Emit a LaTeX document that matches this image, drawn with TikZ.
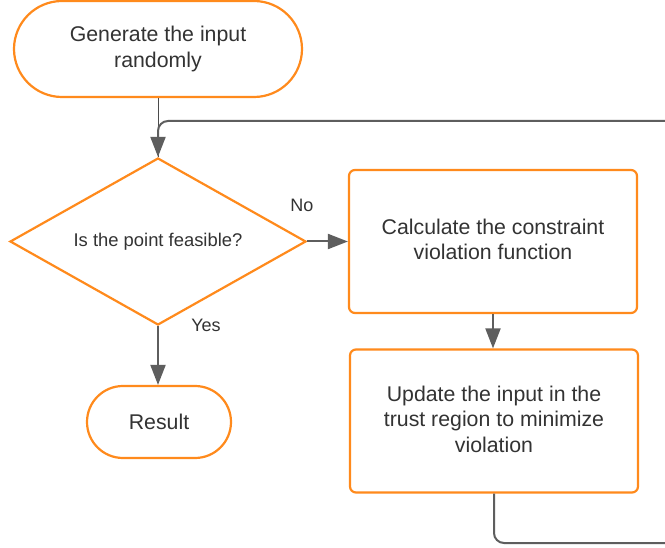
\documentclass[tikz,border=0pt]{standalone}
\usepackage{fontspec}
\setmainfont{Liberation Sans}
\usetikzlibrary{shapes.geometric,arrows.meta}
\definecolor{flowor}{RGB}{255,138,28}
\definecolor{linegray}{RGB}{94,94,94}
\definecolor{txt}{RGB}{51,51,51}
\tikzset{
  base/.style={draw=flowor, line width=2.2pt, fill=white, text=txt, align=center, inner sep=0pt},
  terminal/.style={base, rounded corners=#1},
  process/.style={base, rounded corners=6pt, minimum width=288pt, minimum height=143pt, text depth=4pt},
  decision/.style={base, diamond, aspect=1.772, minimum width=296pt, minimum height=167pt},
  bigtxt/.style={font=\fontsize{21.3}{25.5}\selectfont},
  smalltxt/.style={font=\fontsize{18.4}{22}\selectfont},
  tip/.style={-{Triangle[length=20pt,width=15pt]}},
  flow/.style={draw=linegray, line width=2pt, tip},
  loopline/.style={draw=linegray, line width=2pt, rounded corners=10pt},
  lbl/.style={text=txt, font=\fontsize{18}{21}\selectfont, inner sep=0pt}
}
\begin{document}
\begin{tikzpicture}[x=1pt,y=-1pt]
\useasboundingbox[fill=white] (0,0) rectangle (665,548);
\clip (0,0) rectangle (665,548);

% shapes
\node[terminal=48pt, bigtxt, minimum width=288pt, minimum height=96pt] (start) at (158,49) {Generate the input\\randomly};
\node[decision, smalltxt] (dia) at (158,241.5) {Is the point feasible?};
\node[terminal=36pt, bigtxt, minimum width=144pt, minimum height=72pt] (res) at (159,422) {Result};
\node[process, bigtxt] (calc) at (493,241.5) {Calculate the constraint\\violation function};
\node[process, bigtxt] (upd) at (494,421) {Update the input in the\\trust region to minimize\\violation};

% loop ends leaving the page
\coordinate (loopB) at (665,543);
\coordinate (loopT) at (665,121);

% connectors
\draw[draw=linegray!80!black, line width=1pt] (start.south) -- (dia.north);
\draw[loopline, tip] (loopT) -- (dia.north |- loopT) -- (dia.north);
\draw[flow] (dia.east) -- (calc.west);
\draw[flow] (calc.south) -- (calc.south |- upd.north);
\draw[flow] (dia.south) -- (dia.south |- res.north);
\draw[loopline] (upd.south) -- (upd.south |- loopB) -- (loopB);

% edge labels
\node[lbl] (nolbl) at (302,205) {No};
\node[lbl] (yeslbl) at (206,325) {Yes};
\end{tikzpicture}
\end{document}
